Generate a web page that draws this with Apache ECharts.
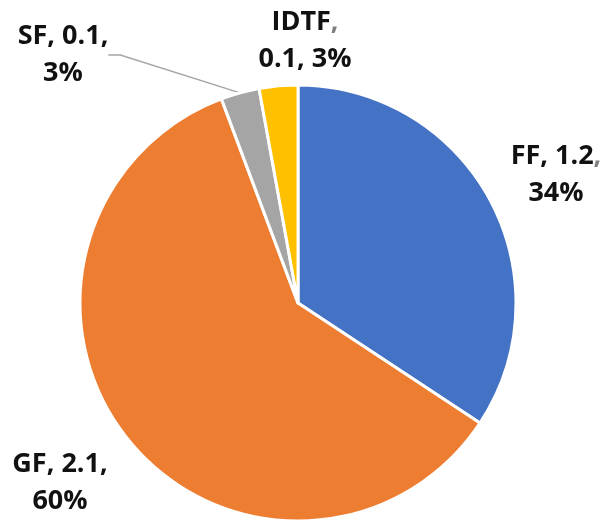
<!DOCTYPE html>
<html>
<head>
<meta charset="utf-8">
<script src="https://cdn.jsdelivr.net/npm/echarts@6/dist/echarts.min.js"></script>
<style>
  html, body { margin: 0; padding: 0; background: #fff; }
  #chart { width: 606px; height: 521px; }
</style>
</head>
<body>
<div id="chart"></div>
<script>
  // 数据
  const names = ['FF', 'GF', 'SF', 'IDTF'];
  const values = [1.2, 2.1, 0.1, 0.1];
  const colors = ['#4472C4', '#ED7D31', '#A5A5A5', '#FFC000'];
  // label anchors (px), same order as names
  const labelPos = [[556, 175], [60, 483], [63, 55], [305, 41]];

  const myEcharts = echarts.init(document.getElementById('chart'));

  let pieData = names.map((n, i) => ({
    name: n,
    value: values[i],
    itemStyle: { color: colors[i] },
    labelLine: { show: n === 'SF' }
  }));

  let txt = {
    color: '#111',
    fontFamily: 'Open Sans',
    fontWeight: 'bold',
    fontSize: 27,
    lineHeight: 37
  };

  let option = {
    backgroundColor: '#fff',
    animation: false,
    series: [{
      type: 'pie',
      center: [298, 303],
      radius: [0, 218],
      startAngle: 90,
      clockwise: true,
      percentPrecision: 0,
      data: pieData,
      itemStyle: {
        borderColor: '#fff',
        borderWidth: 3
      },
      label: Object.assign({
        show: true,
        position: 'outside',
        align: 'center',
        overflow: 'none',
        rich: {
          g: Object.assign({}, txt, { color: '#7f7f7f' })
        },
        formatter: function (p) {
          if (p.name === 'IDTF') return p.name + '{g|,}\n' + p.value + ', ' + p.percent + '%';
          if (p.name === 'FF') return p.name + ', ' + p.value + '{g|,}\n' + p.percent + '%';
          return p.name + ', ' + p.value + ',\n' + p.percent + '%';
        }
      }, txt),
      labelLine: {
        length: 20,
        length2: 12,
        lineStyle: { color: '#A5A5A5', width: 1.5 }
      },
      labelLayout: function (params) {
        let pos = labelPos[params.dataIndex];
        return {
          x: pos[0],
          y: pos[1],
          align: 'center',
          verticalAlign: 'middle'
        };
      }
    }]
  };
  myEcharts.setOption(option);
</script>
</body>
</html>
